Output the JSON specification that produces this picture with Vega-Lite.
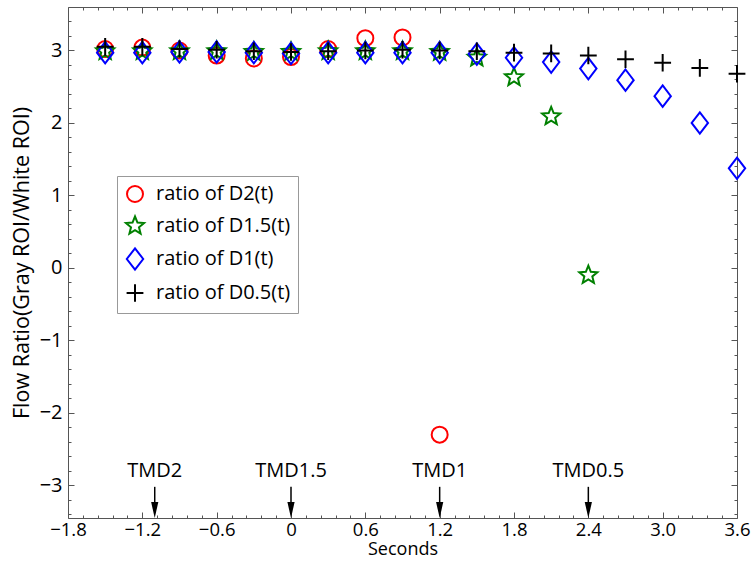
{
  "$schema": "https://vega.github.io/schema/vega-lite/v6.json",
  "width": 669,
  "height": 511,
  "autosize": {"type": "none"},
  "padding": {"left": 68, "top": 7, "right": 15, "bottom": 49},
  "background": "white",
  "config": {
    "font": "Open Sans",
    "view": {"stroke": null},
    "axis": {
      "grid": false,
      "domainColor": "#555",
      "tickColor": "#555",
      "labelColor": "black",
      "titleColor": "black",
      "labelFontSize": 20,
      "titleFontSize": 20,
      "titleFontWeight": "normal",
      "labelFont": "Open Sans",
      "titleFont": "Open Sans"
    }
  },
  "datasets": {
    "points": [
      {"series": "ratio of D2(t)", "t": -1.5, "ratio": 3.02},
      {"series": "ratio of D2(t)", "t": -1.2, "ratio": 3.04},
      {"series": "ratio of D2(t)", "t": -0.9, "ratio": 3.0},
      {"series": "ratio of D2(t)", "t": -0.6, "ratio": 2.93},
      {"series": "ratio of D2(t)", "t": -0.3, "ratio": 2.89},
      {"series": "ratio of D2(t)", "t": 0, "ratio": 2.91},
      {"series": "ratio of D2(t)", "t": 0.3, "ratio": 3.02},
      {"series": "ratio of D2(t)", "t": 0.6, "ratio": 3.17},
      {"series": "ratio of D2(t)", "t": 0.9, "ratio": 3.18},
      {"series": "ratio of D2(t)", "t": 1.2, "ratio": -2.3},
      {"series": "ratio of D1.5(t)", "t": -1.5, "ratio": 2.99},
      {"series": "ratio of D1.5(t)", "t": -1.2, "ratio": 2.99},
      {"series": "ratio of D1.5(t)", "t": -0.9, "ratio": 2.99},
      {"series": "ratio of D1.5(t)", "t": -0.6, "ratio": 2.99},
      {"series": "ratio of D1.5(t)", "t": -0.3, "ratio": 2.98},
      {"series": "ratio of D1.5(t)", "t": 0, "ratio": 2.98},
      {"series": "ratio of D1.5(t)", "t": 0.3, "ratio": 2.99},
      {"series": "ratio of D1.5(t)", "t": 0.6, "ratio": 2.99},
      {"series": "ratio of D1.5(t)", "t": 0.9, "ratio": 2.99},
      {"series": "ratio of D1.5(t)", "t": 1.2, "ratio": 2.98},
      {"series": "ratio of D1.5(t)", "t": 1.5, "ratio": 2.9},
      {"series": "ratio of D1.5(t)", "t": 1.8, "ratio": 2.63},
      {"series": "ratio of D1.5(t)", "t": 2.1, "ratio": 2.09},
      {"series": "ratio of D1.5(t)", "t": 2.4, "ratio": -0.1},
      {"series": "ratio of D1(t)", "t": -1.5, "ratio": 2.97},
      {"series": "ratio of D1(t)", "t": -1.2, "ratio": 2.97},
      {"series": "ratio of D1(t)", "t": -0.9, "ratio": 2.98},
      {"series": "ratio of D1(t)", "t": -0.6, "ratio": 2.98},
      {"series": "ratio of D1(t)", "t": -0.3, "ratio": 2.97},
      {"series": "ratio of D1(t)", "t": 0, "ratio": 2.96},
      {"series": "ratio of D1(t)", "t": 0.3, "ratio": 2.97},
      {"series": "ratio of D1(t)", "t": 0.6, "ratio": 2.97},
      {"series": "ratio of D1(t)", "t": 0.9, "ratio": 2.97},
      {"series": "ratio of D1(t)", "t": 1.2, "ratio": 2.97},
      {"series": "ratio of D1(t)", "t": 1.5, "ratio": 2.95},
      {"series": "ratio of D1(t)", "t": 1.8, "ratio": 2.9},
      {"series": "ratio of D1(t)", "t": 2.1, "ratio": 2.84},
      {"series": "ratio of D1(t)", "t": 2.4, "ratio": 2.75},
      {"series": "ratio of D1(t)", "t": 2.7, "ratio": 2.59},
      {"series": "ratio of D1(t)", "t": 3.0, "ratio": 2.37},
      {"series": "ratio of D1(t)", "t": 3.3, "ratio": 2.0},
      {"series": "ratio of D1(t)", "t": 3.6, "ratio": 1.375},
      {"series": "ratio of D0.5(t)", "t": -1.5, "ratio": 3.05},
      {"series": "ratio of D0.5(t)", "t": -1.2, "ratio": 3.05},
      {"series": "ratio of D0.5(t)", "t": -0.9, "ratio": 3.02},
      {"series": "ratio of D0.5(t)", "t": -0.6, "ratio": 3.01},
      {"series": "ratio of D0.5(t)", "t": -0.3, "ratio": 2.99},
      {"series": "ratio of D0.5(t)", "t": 0, "ratio": 2.98},
      {"series": "ratio of D0.5(t)", "t": 0.3, "ratio": 2.99},
      {"series": "ratio of D0.5(t)", "t": 0.6, "ratio": 3.0},
      {"series": "ratio of D0.5(t)", "t": 0.9, "ratio": 3.01},
      {"series": "ratio of D0.5(t)", "t": 1.2, "ratio": 3.0},
      {"series": "ratio of D0.5(t)", "t": 1.5, "ratio": 2.99},
      {"series": "ratio of D0.5(t)", "t": 1.8, "ratio": 2.97},
      {"series": "ratio of D0.5(t)", "t": 2.1, "ratio": 2.96},
      {"series": "ratio of D0.5(t)", "t": 2.4, "ratio": 2.93},
      {"series": "ratio of D0.5(t)", "t": 2.7, "ratio": 2.88},
      {"series": "ratio of D0.5(t)", "t": 3.0, "ratio": 2.83},
      {"series": "ratio of D0.5(t)", "t": 3.3, "ratio": 2.76},
      {"series": "ratio of D0.5(t)", "t": 3.6, "ratio": 2.68}
    ],
    "tmd": [
      {"label": "TMD2", "t": -1.1},
      {"label": "TMD1.5", "t": 0},
      {"label": "TMD1", "t": 1.2},
      {"label": "TMD0.5", "t": 2.4}
    ]
  },
  "resolve": {"axis": {"x": "independent", "y": "independent"}},
  "layer": [
    {
      "data": {"name": "points"},
      "mark": {"type": "point", "opacity": 0},
      "encoding": {
        "x": {
          "field": "t", "type": "quantitative",
          "scale": {"domain": [-1.8, 3.6], "nice": false, "zero": false},
          "axis": {"orient": "top", "title": null, "labels": false, "tickSize": -6,
            "values": [-1.8,-1.2,-0.6,0,0.6,1.2,1.8,2.4,3.0,3.6]}
        },
        "y": {
          "field": "ratio", "type": "quantitative",
          "scale": {"domain": [-3.45, 3.6], "nice": false, "zero": false},
          "axis": {"orient": "right", "title": null, "labels": false, "tickSize": -6,
            "values": [-3,-2,-1,0,1,2,3]}
        }
      }
    },
    {
      "data": {"name": "points"},
      "mark": {"type": "point", "opacity": 0},
      "encoding": {
        "x": {
          "field": "t", "type": "quantitative",
          "axis": {"orient": "top", "title": null, "labels": false, "tickSize": -3, "domain": false,
            "values": [-1.68,-1.56,-1.44,-1.32,-1.08,-0.96,-0.84,-0.72,-0.48,-0.36,-0.24,-0.12,0.12,0.24,0.36,0.48,0.72,0.84,0.96,1.08,1.32,1.44,1.56,1.68,1.92,2.04,2.16,2.28,2.52,2.64,2.76,2.88,3.12,3.24,3.36,3.48]}
        },
        "y": {
          "field": "ratio", "type": "quantitative",
          "axis": {"orient": "right", "title": null, "labels": false, "tickSize": -3, "domain": false,
            "values": [-3.4,-3.2,-2.8,-2.6,-2.4,-2.2,-1.8,-1.6,-1.4,-1.2,-0.8,-0.6,-0.4,-0.2,0.2,0.4,0.6,0.8,1.2,1.4,1.6,1.8,2.2,2.4,2.6,2.8,3.2,3.4]}
        }
      }
    },
    {
      "data": {"name": "points"},
      "mark": {"type": "point", "opacity": 0},
      "encoding": {
        "x": {
          "field": "t", "type": "quantitative",
          "axis": {"orient": "bottom", "title": null, "labels": false, "tickSize": -3, "domain": false,
            "values": [-1.68,-1.56,-1.44,-1.32,-1.08,-0.96,-0.84,-0.72,-0.48,-0.36,-0.24,-0.12,0.12,0.24,0.36,0.48,0.72,0.84,0.96,1.08,1.32,1.44,1.56,1.68,1.92,2.04,2.16,2.28,2.52,2.64,2.76,2.88,3.12,3.24,3.36,3.48]}
        },
        "y": {
          "field": "ratio", "type": "quantitative",
          "axis": {"orient": "left", "title": null, "labels": false, "tickSize": -3, "domain": false,
            "values": [-3.4,-3.2,-2.8,-2.6,-2.4,-2.2,-1.8,-1.6,-1.4,-1.2,-0.8,-0.6,-0.4,-0.2,0.2,0.4,0.6,0.8,1.2,1.4,1.6,1.8,2.2,2.4,2.6,2.8,3.2,3.4]}
        }
      }
    },
    {
      "data": {"name": "points"},
      "mark": {"type": "point", "filled": false, "strokeWidth": 2, "size": 400, "opacity": 1},
      "encoding": {
        "x": {
          "field": "t", "type": "quantitative",
          "axis": {"orient": "bottom", "title": "Seconds", "titleFontSize": 18, "labelFontSize": 18.5, "tickSize": -6, "labelOverlap": false, "labelFlush": false, "labelPadding": 8, "titlePadding": 2,
            "labelExpr": "abs(datum.value) < 0.001 ? '0' : (datum.value < 0 ? format(datum.value, '.1f') + '\u00a0\u00a0\u00a0' : format(datum.value, '.1f'))",
            "values": [-1.8,-1.2,-0.6,0,0.6,1.2,1.8,2.4,3.0,3.6]}
        },
        "y": {
          "field": "ratio", "type": "quantitative",
          "axis": {"orient": "left", "title": "Flow Ratio(Gray ROI/White ROI)", "titleFontSize": 21.5, "tickSize": -6, "labelOverlap": false, "labelFlush": false, "labelPadding": 12, "titlePadding": 6,
            "labelExpr": "format(round(datum.value), 'd')",
            "values": [-3,-2,-1,0,1,2,3]}
        },
        "color": {
          "field": "series", "type": "nominal",
          "scale": {
            "domain": ["ratio of D2(t)", "ratio of D1.5(t)", "ratio of D1(t)", "ratio of D0.5(t)"],
            "range": ["#ff0000", "#008000", "#0000ff", "#000000"]
          },
          "legend": {
            "title": null, "orient": "none", "legendX": 49, "legendY": 169,
            "strokeColor": "#999", "fillColor": "white", "padding": 7, "rowPadding": 6,
            "labelFontSize": 20, "labelOffset": 10, "symbolSize": 400, "symbolStrokeWidth": 2,
            "labelColor": "black", "labelFont": "Open Sans",
            "labelExpr": "datum.label + '\u00a0\u00a0\u00a0\u00a0'"
          }
        },
        "shape": {
          "field": "series", "type": "nominal",
          "scale": {
            "domain": ["ratio of D2(t)", "ratio of D1.5(t)", "ratio of D1(t)", "ratio of D0.5(t)"],
            "range": [
              "M0.8,0A0.8,0.8,0,1,1,-0.8,0A0.8,0.8,0,1,1,0.8,0Z",
              "M0,-0.95L0.2469,-0.3398L0.9035,-0.2936L0.3994,0.1298L0.5584,0.7686L0,0.42L-0.5584,0.7686L-0.3994,0.1298L-0.9035,-0.2936L-0.2469,-0.3398Z",
              "M0,-1.07L0.82,0L0,1.07L-0.82,0Z",
              "M-0.84,0L0.84,0M0,-0.88L0,0.88"
            ]
          },
          "legend": {
            "title": null, "orient": "none", "legendX": 49, "legendY": 169,
            "strokeColor": "#999", "fillColor": "white", "padding": 7, "rowPadding": 6,
            "labelFontSize": 20, "labelOffset": 10, "symbolSize": 400, "symbolStrokeWidth": 2,
            "labelColor": "black", "labelFont": "Open Sans",
            "labelExpr": "datum.label + '\u00a0\u00a0\u00a0\u00a0'"
          }
        }
      }
    },
    {
      "data": {"name": "tmd"},
      "mark": {"type": "rule", "strokeWidth": 1.5, "color": "black"},
      "encoding": {
        "x": {"field": "t", "type": "quantitative", "axis": null},
        "y": {"datum": -3.02, "type": "quantitative", "axis": null},
        "y2": {"datum": -3.3}
      }
    },
    {
      "data": {"name": "tmd"},
      "mark": {"type": "point", "filled": true, "color": "black", "size": 256, "opacity": 1, "strokeWidth": 0, "shape": "M-0.45,-1L0.45,-1L0,1Z"},
      "encoding": {
        "x": {"field": "t", "type": "quantitative", "axis": null},
        "y": {"datum": -3.34, "type": "quantitative", "axis": null}
      }
    },
    {
      "data": {"name": "tmd"},
      "mark": {"type": "text", "fontSize": 20, "baseline": "middle", "align": "center", "color": "black", "font": "Open Sans"},
      "encoding": {
        "x": {"field": "t", "type": "quantitative", "axis": null},
        "y": {"datum": -2.8, "type": "quantitative", "axis": null},
        "text": {"field": "label"}
      }
    }
  ]
}
